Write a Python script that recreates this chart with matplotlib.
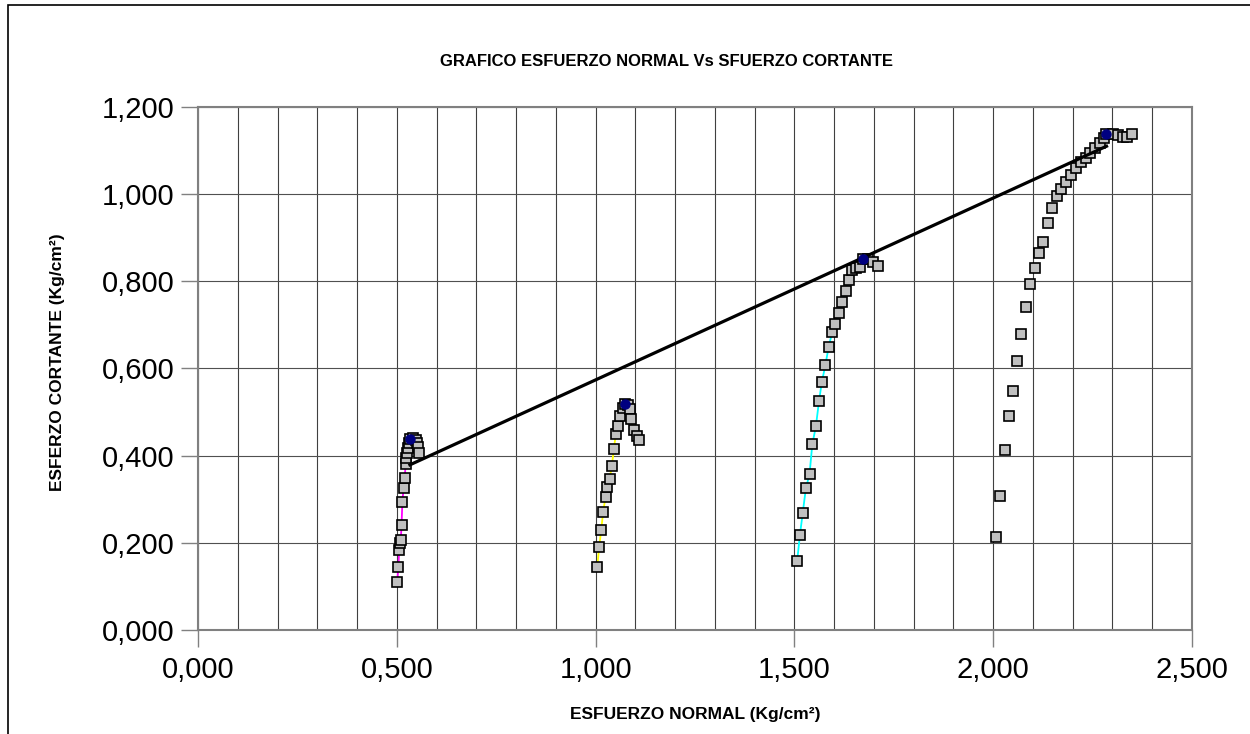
import matplotlib
matplotlib.use("Agg")
import matplotlib.pyplot as plt
import matplotlib.patches as patches
from matplotlib.ticker import FuncFormatter, MultipleLocator

plt.rcParams["font.family"] = ["Liberation Sans", "DejaVu Sans"]

# ensayo 1
normal_1 = [0.501, 0.504, 0.506, 0.508, 0.510, 0.512, 0.514, 0.517, 0.520, 0.522,
            0.524, 0.526, 0.528, 0.530, 0.533, 0.540, 0.548, 0.552, 0.554, 0.556]
corte_1 = [0.110, 0.145, 0.184, 0.200, 0.206, 0.242, 0.294, 0.325, 0.348, 0.380,
           0.395, 0.405, 0.418, 0.428, 0.439, 0.440, 0.437, 0.430, 0.420, 0.406]

# ensayo 2
normal_2 = [1.004, 1.009, 1.014, 1.019, 1.025, 1.029, 1.035, 1.041, 1.046, 1.051,
            1.057, 1.062, 1.068, 1.074, 1.082, 1.086, 1.090, 1.096, 1.103, 1.110]
corte_2 = [0.144, 0.190, 0.229, 0.271, 0.306, 0.328, 0.346, 0.377, 0.416, 0.450,
           0.467, 0.490, 0.510, 0.519, 0.517, 0.506, 0.483, 0.460, 0.444, 0.436]

# ensayo 3
normal_3 = [1.507, 1.514, 1.521, 1.529, 1.538, 1.545, 1.554, 1.562, 1.569, 1.578,
            1.586, 1.595, 1.603, 1.611, 1.620, 1.629, 1.637, 1.646, 1.655, 1.665,
            1.673, 1.686, 1.698, 1.710]
corte_3 = [0.159, 0.219, 0.269, 0.326, 0.357, 0.426, 0.467, 0.526, 0.569, 0.608,
           0.649, 0.683, 0.703, 0.727, 0.752, 0.777, 0.803, 0.825, 0.830, 0.834,
           0.852, 0.851, 0.844, 0.835]

# ensayo 4
normal_4 = [2.008, 2.018, 2.029, 2.040, 2.050, 2.061, 2.071, 2.082, 2.092, 2.104,
            2.115, 2.126, 2.138, 2.149, 2.161, 2.171, 2.184, 2.196, 2.208, 2.220,
            2.233, 2.244, 2.257, 2.268, 2.279, 2.284, 2.302, 2.315, 2.326, 2.337, 2.349]
corte_4 = [0.213, 0.308, 0.414, 0.490, 0.548, 0.617, 0.680, 0.740, 0.795, 0.831,
           0.866, 0.891, 0.933, 0.969, 0.995, 1.013, 1.029, 1.045, 1.061, 1.074,
           1.084, 1.094, 1.105, 1.117, 1.128, 1.138, 1.139, 1.136, 1.132, 1.132, 1.137]

# maximos de cada ensayo
normal_max = [0.533, 1.074, 1.673, 2.284]
corte_max = [0.439, 0.519, 0.852, 1.138]

# envolvente de falla
envolvente_x = [0.533, 2.285]
envolvente_y = [0.379, 1.110]

series = [
    (normal_1, corte_1, "#ff00ff"),
    (normal_2, corte_2, "#ffff00"),
    (normal_3, corte_3, "#00ffff"),
    (normal_4, corte_4, "none"),
]

fig = plt.figure(figsize=(12.5, 7.34), dpi=100)
ax = fig.add_axes([198 / 1250, 104 / 734, 994 / 1250, 523 / 734])

for x, y, c in series:
    ax.plot(x, y, color=c, lw=1.3, zorder=2)
    ax.plot(x, y, ls="none", marker="s", ms=7.2, mfc="#c0c0c0", mec="black",
            mew=1.2, zorder=3)

ax.plot(envolvente_x, envolvente_y, color="black", lw=2.3, zorder=4)
ax.plot(normal_max, corte_max, ls="none", marker="o", ms=6.5, mfc="#000080",
        mec="#000080", zorder=5)

ax.set_xlim(0, 2.5)
ax.set_ylim(0, 1.2)
ax.xaxis.set_major_locator(MultipleLocator(0.5))
ax.xaxis.set_minor_locator(MultipleLocator(0.1))
ax.yaxis.set_major_locator(MultipleLocator(0.2))
fmt = FuncFormatter(lambda v, p: f"{v:.3f}".replace(".", ","))
ax.xaxis.set_major_formatter(fmt)
ax.yaxis.set_major_formatter(fmt)

ax.grid(True, which="both", axis="x", color="#404040", lw=0.8)
ax.grid(True, which="major", axis="y", color="#505050", lw=0.8)
ax.set_axisbelow(True)
ax.tick_params(axis="x", which="minor", length=0)
ax.tick_params(axis="both", which="major", labelsize=21, length=12, width=1,
               color="#808080")
ax.tick_params(axis="x", which="major", pad=7)
ax.tick_params(axis="y", which="major", pad=5)
for s in ax.spines.values():
    s.set_color("#808080")
    s.set_linewidth(1.5)

ax.set_xlabel("ESFUERZO NORMAL (Kg/cm²)", fontsize=12.5, fontweight="bold")
ax.set_ylabel("ESFERZO CORTANTE (Kg/cm²)", fontsize=12.5, fontweight="bold")
ax.xaxis.set_label_coords(0.5, (630 - 715) / 523)
ax.xaxis.label.set_va("center")
ax.yaxis.set_label_coords((57 - 198) / 994, (630 - 362) / 523)
ax.yaxis.label.set_va("center")

fig.text(666 / 1250, 1 - 62 / 734, "GRAFICO ESFUERZO NORMAL Vs SFUERZO CORTANTE",
         ha="center", va="center", fontsize=12, fontweight="bold")

borde = patches.Rectangle((8 / 1250, -0.1), 1.2, 1.1 - 5 / 734, transform=fig.transFigure,
                          fill=False, ec="black", lw=1.2, clip_on=False)
fig.patches.append(borde)

fig.savefig("out.png", dpi=100)
